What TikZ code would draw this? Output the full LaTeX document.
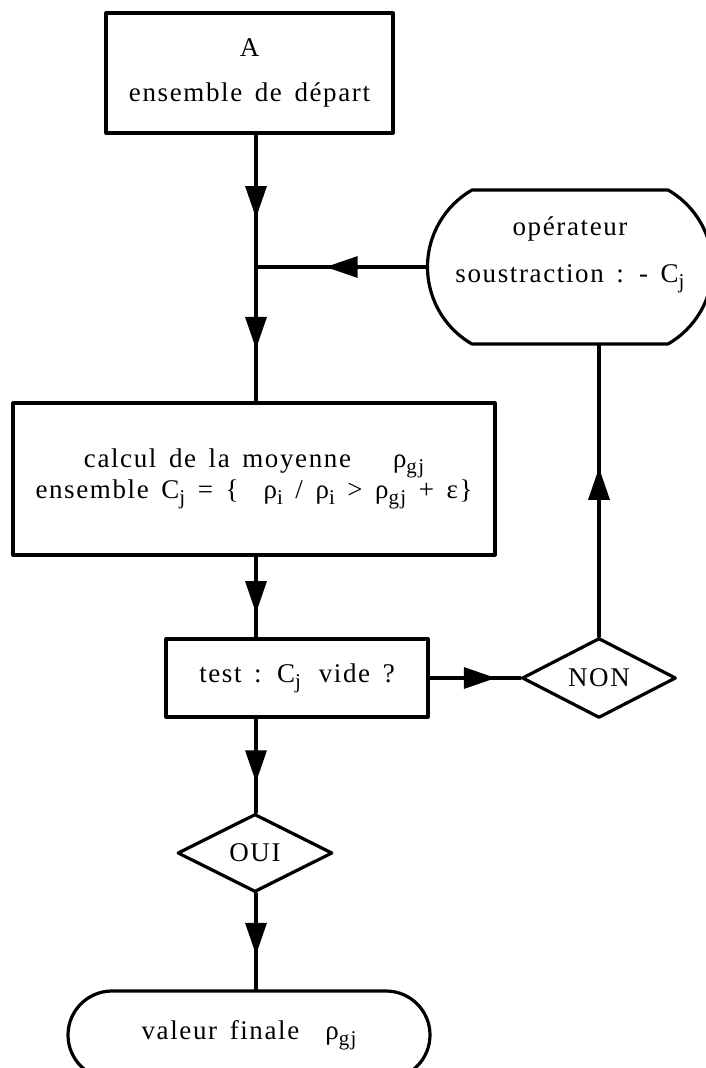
\documentclass[tikz,border=0pt]{standalone}
\usepackage{fontspec}
\setmainfont{Liberation Serif}[LetterSpace=6,WordSpace=1.5]
\usetikzlibrary{shapes.geometric,shapes.misc,decorations.markings,arrows.meta}
\newcommand{\ind}[1]{\raisebox{-.5ex}{\fontsize{21}{21}\selectfont #1}}
\tikzset{
  boite/.style={draw,rectangle,align=center,inner sep=0pt},
  losange/.style={draw,diamond,inner sep=0pt},
  ovale/.style={draw,rounded rectangle,align=center,inner sep=0pt},
  fleche/.style={postaction={decorate,decoration={markings,
      mark=at position #1 with {\arrow{Triangle[length=32pt 0,width=21pt 0]}}}}}
}
\begin{document}
\begin{tikzpicture}[x=1pt,y=-1pt,line width=3.2pt,line join=round,line cap=round,
    every node/.style={font=\fontsize{27}{29}\selectfont}]
  \useasboundingbox (0,0) rectangle (706,1068);
  % les cases
  \node[boite,minimum width=287pt,minimum height=120pt] (depart) at (249.5,73)
    {A\\[16pt]ensemble de départ};
  \node[ovale,rounded rectangle arc length=120,minimum width=285pt,minimum height=154pt] (oper) at (570,267)
    {opérateur\\[18pt]soustraction : - C\ind{j}\\[6pt]};
  \node[boite,minimum width=482pt,minimum height=152pt] (moyenne) at (254,479)
    {calcul de la moyenne\hspace{42pt}ρ\ind{gj}\\ensemble C\ind{j} = \{\ \ ρ\ind{i} / ρ\ind{i} > ρ\ind{gj} + ε\}};
  \node[boite,minimum width=262pt,minimum height=78pt] (test) at (297,678)
    {test : C\ind{j}\hspace{18pt}vide ?};
  \node[losange,minimum width=154pt,minimum height=79pt] (non) at (599,678) {NON};
  \node[losange,minimum width=155pt,minimum height=78pt] (oui) at (255,853) {OUI};
  \node[ovale,minimum width=362pt,minimum height=88pt] (final) at (249,1035)
    {valeur finale\hspace{26pt}ρ\ind{gj}};
  \coordinate (jonction) at (256,267);
  % les liaisons
  \draw[fleche=.63] (depart.south -| jonction) -- (jonction);
  \draw[fleche=.61] (jonction) -- (moyenne.north -| jonction);
  \draw[fleche=.59] (oper.west) -- (jonction);
  \draw[fleche=.70] (moyenne.south -| jonction) -- (test.north -| jonction);
  \draw[fleche=.73] (test.east) -- (non.west);
  \draw[fleche=.58] (non.north) -- (oper.south -| non.north);
  \draw[fleche=.68] (test.south -| jonction) -- (oui.north -| jonction);
  \draw[fleche=.64] (oui.south -| jonction) -- (final.north -| jonction);
\end{tikzpicture}
\end{document}
